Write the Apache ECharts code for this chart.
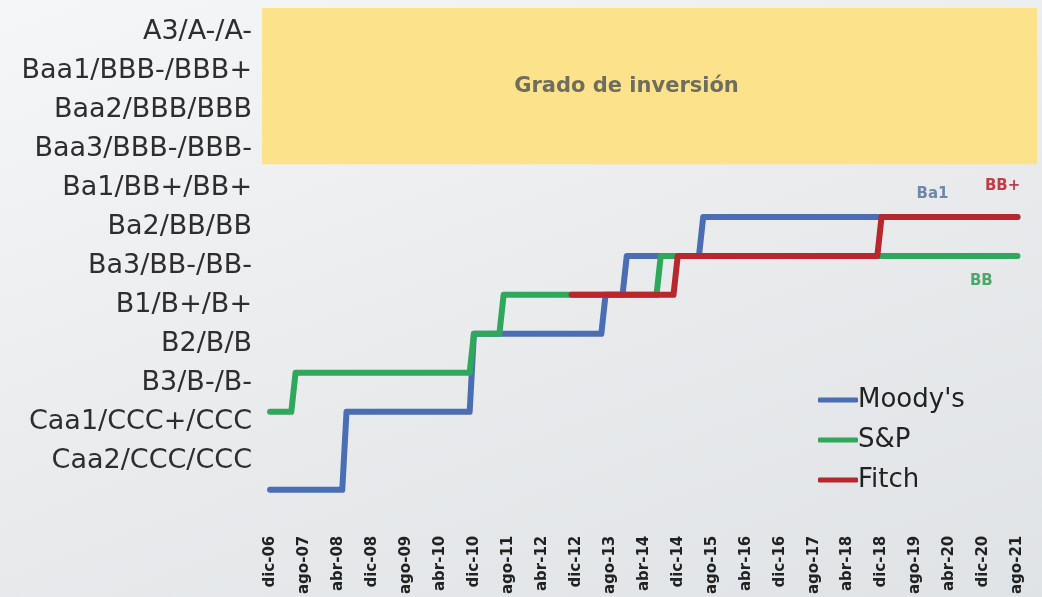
<!DOCTYPE html>
<html>
<head>
<meta charset="utf-8">
<script src="https://cdn.jsdelivr.net/npm/echarts@6/dist/echarts.min.js"></script>
<style>
html,body{margin:0;padding:0;}
#chart{width:1042px;height:597px;background:linear-gradient(160deg,#f5f6f7 0%,#e8eaec 55%,#e0e3e6 100%);}
</style>
</head>
<body>
<div id="chart"></div>
<script>
// Rating scale (bottom to top), shown on the left axis
const ratingLabels = ['Caa2/CCC/CCC','Caa1/CCC+/CCC','B3/B-/B-','B2/B/B','B1/B+/B+','Ba3/BB-/BB-','Ba2/BB/BB','Ba1/BB+/BB+','Baa3/BBB-/BBB-','Baa2/BBB/BBB','Baa1/BBB-/BBB+','A3/A-/A-'];
// X tick labels (every 8 months from dic-06; month index 0 = dic-06)
const tickMonths = [0,8,16,24,32,40,48,56,64,72,80,88,96,104,112,120,128,136,144,152,160,168,176];
const tickLabels = ['dic-06','ago-07','abr-08','dic-08','ago-09','abr-10','dic-10','ago-11','abr-12','dic-12','ago-13','abr-14','dic-14','ago-15','abr-16','dic-16','ago-17','abr-18','dic-18','ago-19','abr-20','dic-20','ago-21'];
// Series: [month index, rating level] (0 = Caa2 ... 7 = Ba1)
const moodys = [[0,0],[17,0],[18,2],[47,2],[48,4],[78,4],[79,5],[83,5],[84,6],[101,6],[102,7],[176,7]];
const sp     = [[0,2],[5,2],[6,3],[47,3],[48,4],[54,4],[55,5],[91,5],[92,6],[176,6]];
const fitch  = [[71,5],[95,5],[96,6],[143,6],[144,7],[176,7]];
const seriesNames = ["Moody's", 'S&P', 'Fitch'];
const investmentGradeFrom = 8.35;

const chart = echarts.init(document.getElementById('chart'));
const colors = ['#4a6db3', '#2fa85c', '#b8262e'];
function endLabel(coord, text, color, offset){
  return {coord: coord, symbolSize: 0, label: {show: true, formatter: text, color: color, fontFamily: 'DejaVu Sans', fontWeight: 'bold', fontSize: 15, offset: offset}};
}
chart.setOption({
  animation: false,
  color: colors,
  grid: {left: 262, right: 5, top: 8, bottom: 67},
  legend: {
    orient: 'vertical', left: 813, top: 382, itemGap: 14, itemWidth: 40, itemHeight: 5,
    icon: 'roundRect',
    textStyle: {fontFamily: 'DejaVu Sans', fontSize: 26, color: '#222', padding: [0,0,0,-5]},
    data: seriesNames
  },
  xAxis: {
    type: 'value', min: -1.9, max: 180.6,
    axisLine: {show: false}, axisTick: {show: false}, splitLine: {show: false},
    axisLabel: {
      customValues: tickMonths, rotate: 90, margin: 7,
      fontFamily: 'DejaVu Sans', fontWeight: 'bold', fontSize: 15, color: '#222',
      formatter: v => tickLabels[tickMonths.indexOf(Math.round(v))] || ''
    }
  },
  yAxis: [
    {
      type: 'value', min: -1.745, max: 11.615,
      axisLine: {show: false}, axisTick: {show: false}, splitLine: {show: false},
      axisLabel: {
        customValues: ratingLabels.map((_, i) => i), margin: 10,
        fontFamily: 'DejaVu Sans', fontSize: 27, color: '#2e2e2e',
        formatter: v => ratingLabels[Math.round(v)] || ''
      }
    },
    {type: 'value', min: -1, max: 12.36, show: false}
  ],
  series: [
    {
      name: seriesNames[0], type: 'line', yAxisIndex: 1, data: moodys, showSymbol: false, symbol: 'none',
      lineStyle: {width: 6, color: colors[0], cap: 'round', join: 'round'},
      markArea: {
        silent: true,
        itemStyle: {color: '#fce38b', borderRadius: 4},
        label: {show: true, position: 'inside', offset: [-23, 0], formatter: 'Grado de inversión', fontFamily: 'DejaVu Sans', fontWeight: 'bold', fontSize: 21, color: '#6f6d5e'},
        data: [[{yAxis: investmentGradeFrom}, {yAxis: 12.36}]]
      },
      markPoint: {symbol: 'circle', data: [endLabel([156, 7], 'Ba1', '#6f88aa', [0, -23])]}
    },
    {
      name: seriesNames[1], type: 'line', yAxisIndex: 1, data: sp, showSymbol: false, symbol: 'none',
      lineStyle: {width: 6, color: colors[1], cap: 'round', join: 'round'},
      markPoint: {symbol: 'circle', data: [endLabel([167.5, 6], 'BB', '#4aa86a', [0, 25])]}
    },
    {
      name: seriesNames[2], type: 'line', yAxisIndex: 1, data: fitch, showSymbol: false, symbol: 'none',
      lineStyle: {width: 6, color: colors[2], cap: 'round', join: 'round'},
      markPoint: {symbol: 'circle', data: [endLabel([172.5, 7], 'BB+', '#c03c48', [0, -31])]}
    }
  ]
});
</script>
</body>
</html>
